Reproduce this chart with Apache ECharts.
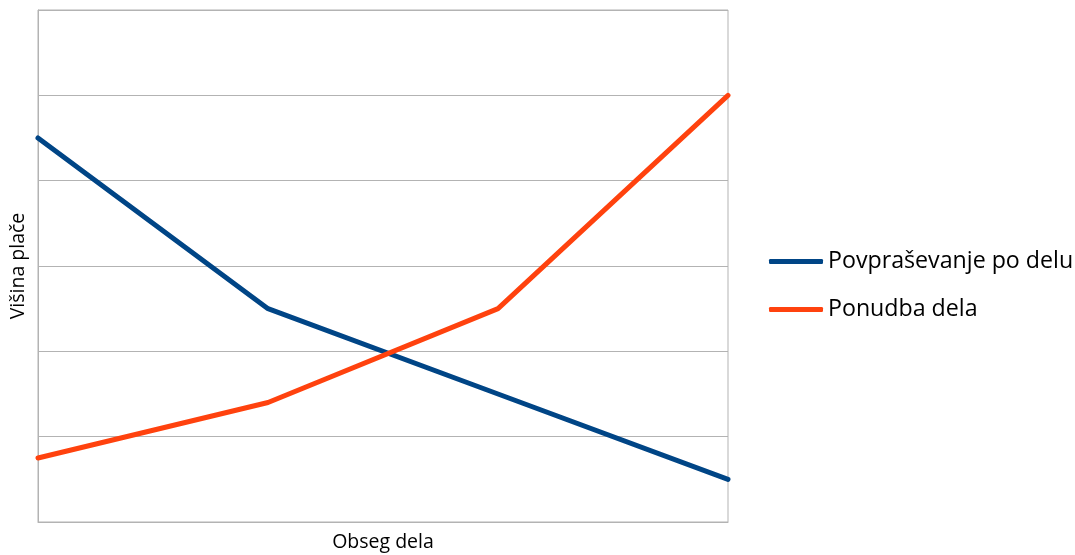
<!DOCTYPE html>
<html>
<head>
<meta charset="utf-8">
<script src="https://cdn.jsdelivr.net/npm/echarts@6/dist/echarts.min.js"></script>
<style>
  html, body { margin: 0; padding: 0; background: #fff; }
  #chart { width: 1075px; height: 555px; }
</style>
</head>
<body>
<div id="chart"></div>
<script>
// Labour market: demand and supply of work against wage level
const categories = ['1', '2', '3', '4'];
const seriesNames = ['Povpraševanje po delu', 'Ponudba dela'];
const demandValues = [4.5, 2.5, 1.5, 0.5];
const supplyValues = [0.75, 1.4, 2.5, 5.0];
const xAxisTitle = 'Obseg dela';
const yAxisTitle = 'Višina plače';

const FONT = '"Open Sans", "Noto Sans", sans-serif';
const GRID_COLOR = '#b3b3b3';

const chart = echarts.init(document.getElementById('chart'), null, { renderer: 'canvas' });

chart.setOption({
  animation: false,
  backgroundColor: '#ffffff',
  textStyle: { fontFamily: FONT, color: '#000' },
  grid: {
    left: 38, right: 347, top: 10, bottom: 33,
    containLabel: false,
    outerBoundsMode: 'none',
    show: true, borderColor: GRID_COLOR, borderWidth: 1
  },
  legend: {
    orient: 'vertical',
    left: 764,
    top: 245,
    icon: 'roundRect',
    itemWidth: 54,
    itemHeight: 5,
    itemGap: 25,
    textStyle: { fontFamily: FONT, fontSize: 23.2, color: '#000' },
    data: seriesNames
  },
  xAxis: {
    type: 'category',
    data: categories,
    boundaryGap: false,
    name: xAxisTitle,
    nameLocation: 'middle',
    nameGap: 10,
    nameTextStyle: { fontFamily: FONT, fontSize: 19.5, color: '#000' },
    axisLine: { show: true, lineStyle: { color: GRID_COLOR, width: 1 } },
    axisTick: { show: false },
    axisLabel: { show: false },
    splitLine: { show: false }
  },
  yAxis: {
    type: 'value',
    min: 0, max: 6, interval: 1,
    name: yAxisTitle,
    nameLocation: 'middle',
    nameRotate: 90,
    nameGap: 10,
    nameTextStyle: { fontFamily: FONT, fontSize: 19.5, color: '#000' },
    axisLine: { show: true, lineStyle: { color: GRID_COLOR, width: 1 } },
    axisTick: { show: false },
    axisLabel: { show: false },
    splitLine: { show: true, lineStyle: { color: GRID_COLOR, width: 1 } }
  },
  series: [
    {
      name: seriesNames[0],
      type: 'line',
      data: demandValues,
      symbol: 'none',
      color: '#004586',
      lineStyle: { width: 5, color: '#004586', cap: 'round' }
    },
    {
      name: seriesNames[1],
      type: 'line',
      data: supplyValues,
      symbol: 'none',
      color: '#ff420e',
      lineStyle: { width: 5, color: '#ff420e', cap: 'round' }
    }
  ]
});
</script>
</body>
</html>
